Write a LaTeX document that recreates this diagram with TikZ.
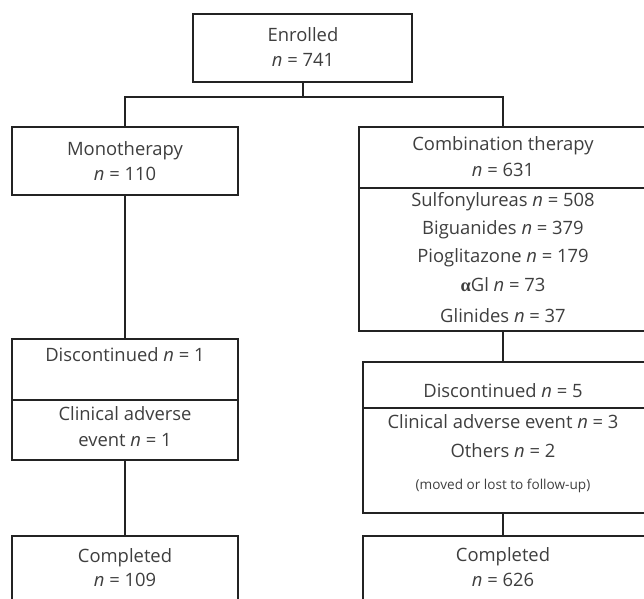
\documentclass[tikz,border=0pt]{standalone}
\usepackage{fontspec}
\setmainfont{Open Sans}
\newfontfamily\grk{Liberation Serif}
\usetikzlibrary{fit}
\definecolor{txtc}{RGB}{62,62,62}
\definecolor{linec}{RGB}{35,35,35}
\begin{document}
\begin{tikzpicture}[x=0.5pt,y=-0.5pt,
  box/.style={draw=linec,line width=1pt,inner sep=0pt,outer sep=0pt},
  lbl/.style={text=txtc,inner sep=0pt,font=\fontsize{9.2}{11}\selectfont,anchor=base},
  small/.style={text=txtc,inner sep=0pt,font=\fontsize{6.8}{8}\selectfont,anchor=base},
  conn/.style={draw=linec,line width=1pt}]
\useasboundingbox (0,0) rectangle (644,599);
\clip (0,0) rectangle (644,599);
% boxes
\node[box,fit={(193,14) (412,82)}] (enr) {};
\node[box,fit={(12,127) (238,195)}] (mono) {};
\node[box,fit={(359,127) (647,188)}] (comb) {};
\node[box,fit={(359,188) (647,331)}] (combd) {};
\node[box,fit={(12,339) (238,400)}] (mdisc) {};
\node[box,fit={(12,400) (238,460)}] (mdiscd) {};
\node[box,fit={(363,362) (647,408)}] (cdisc) {};
\node[box,fit={(363,408) (647,513)}] (cdiscd) {};
\node[box,fit={(12,536) (238,606)}] (mcomp) {};
\node[box,fit={(363,536) (647,606)}] (ccomp) {};
% texts
\node[lbl] (t1) at (303,42) {Enrolled};
\node[lbl] (t2) at (303,67) {\textit{n} = 741};
\node[lbl] (t3) at (125,156) {Monotherapy};
\node[lbl] (t4) at (125,181) {\textit{n} = 110};
\node[lbl] (t5) at (503,151) {Combination therapy};
\node[lbl] (t6) at (503,177) {\textit{n} = 631};
\node[lbl] (t7) at (503,207) {Sulfonylureas \textit{n} = 508};
\node[lbl] (t8) at (503,235) {Biguanides \textit{n} = 379};
\node[lbl] (t9) at (503,263) {Pioglitazone \textit{n} = 179};
\node[lbl] (t10) at (503,292) {{\grk\bfseries α}Gl \textit{n} = 73};
\node[lbl] (t11) at (503,322) {Glinides \textit{n} = 37};
\node[lbl] (t12) at (125,362) {Discontinued \textit{n} = 1};
\node[lbl] (t13) at (125,421) {Clinical adverse};
\node[lbl] (t14) at (125,447) {event \textit{n} = 1};
\node[lbl] (t15) at (503,398) {Discontinued \textit{n} = 5};
\node[lbl] (t16) at (503,429) {Clinical adverse event \textit{n} = 3};
\node[lbl] (t17) at (503,458) {Others \textit{n} = 2};
\node[small] (t18) at (503,489) {(moved or lost to follow-up)};
\node[lbl] (t19) at (125,562) {Completed};
\node[lbl] (t20) at (125,587) {\textit{n} = 109};
\node[lbl] (t21) at (503,561) {Completed};
\node[lbl] (t22) at (503,587) {\textit{n} = 626};
% connectors
\path (enr.south) ++(0,15) coordinate (j);
\draw[conn] (enr.south) -- (j);
\draw[conn] (j) -| (mono.north);
\draw[conn] (j) -| (comb.north -| t5);
\draw[conn] (mono.south) -- (mdisc.north);
\draw[conn] (mdiscd.south) -- (mcomp.north);
\draw[conn] (combd.south -| t5) -- (cdisc.north -| t5);
\draw[conn] (cdiscd.south -| t5) -- (ccomp.north -| t5);
\end{tikzpicture}
\end{document}
